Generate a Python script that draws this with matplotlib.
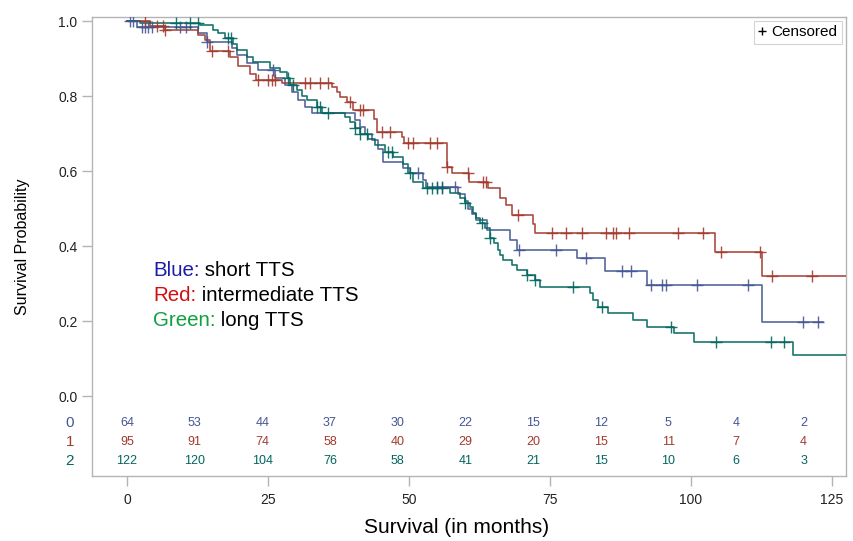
import numpy as np
import matplotlib.pyplot as plt
from matplotlib.lines import Line2D

# KM curves: step times (months) and survival after each step
blue_t = [0, 1.8, 12.6, 14.2, 18.6, 19.5, 21.3, 23.2, 26.2, 28.0, 29.3, 30.3, 31.6, 32.8, 40.4,
          41.3, 42.2, 43.4, 44.5, 45.4, 48.9, 50.2, 52.5, 53.0, 58.7, 59.9, 60.5, 61.2, 61.9, 63.8,
          67.9, 69.1, 79.8, 84.8, 92.2, 112.6]
blue_s = [1.0, 0.985, 0.968, 0.944, 0.928, 0.91, 0.888, 0.869, 0.848, 0.83, 0.81, 0.79, 0.772, 0.755, 0.737,
          0.718, 0.70, 0.683, 0.66, 0.624, 0.608, 0.595, 0.576, 0.557, 0.54, 0.52, 0.50, 0.485, 0.469, 0.443,
          0.416, 0.389, 0.368, 0.334, 0.296, 0.197]
blue_end = 123.4
blue_c = [0.5, 1.1, 2.7, 3.2, 3.7, 4.5, 9.4, 10.5, 14.2, 25.9, 51.6, 55.0, 55.9, 58.2, 69.5, 76.1,
          81.4, 87.8, 89.4, 92.9, 94.9, 95.6, 101.1, 110.1, 119.9, 122.5]

red_t = [0, 4.1, 6.7, 12.6, 13.8, 14.7, 18.3, 19.7, 21.8, 22.9, 27.5, 36.3, 37.2, 37.8, 39.0,
         40.1, 43.8, 44.3, 48.8, 49.1, 56.7, 57.6, 60.6, 64.0, 66.1, 67.2, 68.3, 72.0, 72.3, 104.3, 112.6]
red_s = [1.0, 0.987, 0.975, 0.963, 0.95, 0.92, 0.905, 0.88, 0.86, 0.843, 0.835, 0.824, 0.81, 0.797, 0.784,
         0.763, 0.74, 0.704, 0.69, 0.675, 0.61, 0.595, 0.57, 0.555, 0.528, 0.51, 0.483, 0.46, 0.435, 0.384, 0.32]
red_end = 128
red_c = [3.2, 5.3, 6.4, 6.7, 15.1, 17.9, 23.2, 25.0, 25.7, 26.2, 31.6, 32.4, 34.2, 35.6, 39.5, 41.3,
         41.8, 45.2, 46.6, 49.8, 50.7, 53.7, 55.0, 56.8, 60.5, 63.1, 63.7, 69.3, 75.4, 77.8, 80.7,
         84.9, 86.2, 86.7, 89.0, 97.7, 102.1, 105.3, 112.2, 114.4, 121.5]

green_t = [0, 2.3, 12.9, 15.2, 16.1, 17.4, 18.8, 19.5, 21.3, 22.3, 25.4, 27.1, 28.4, 28.9, 30.1,
           31.0, 31.9, 33.7, 34.6, 38.7, 39.5, 40.4, 41.3, 42.7, 44.0, 45.7, 47.2, 48.9, 49.8, 50.7,
           52.5, 57.3, 59.0, 59.9, 60.8, 61.3, 61.9, 62.6, 63.5, 64.4, 65.1, 65.8, 66.1, 66.7, 68.3,
           69.1, 70.9, 72.3, 73.2, 82.1, 82.6, 83.5, 85.3, 89.7, 92.2, 97.0, 100.5, 118.1]
green_s = [1.0, 0.995, 0.99, 0.977, 0.968, 0.955, 0.94, 0.923, 0.904, 0.891, 0.875, 0.864, 0.848, 0.83, 0.815,
           0.80, 0.789, 0.77, 0.755, 0.745, 0.73, 0.715, 0.70, 0.685, 0.669, 0.65, 0.637, 0.62, 0.595, 0.571,
           0.555, 0.541, 0.528, 0.515, 0.504, 0.488, 0.475, 0.461, 0.448, 0.421, 0.408, 0.389, 0.376, 0.363, 0.349,
           0.336, 0.323, 0.309, 0.291, 0.275, 0.256, 0.237, 0.221, 0.203, 0.184, 0.168, 0.144, 0.109]
green_end = 128
green_c = [8.7, 11.2, 12.6, 17.9, 18.4, 28.5, 29.4, 33.7, 34.2, 35.6, 40.4, 41.3, 42.6, 46.3, 47.0,
           50.2, 53.2, 54.1, 55.0, 55.9, 59.9, 62.9, 64.4, 70.9, 72.3, 79.1, 84.2, 96.5, 104.4, 114.2, 116.5]

# numbers at risk
risk_times = [0, 12, 24, 36, 48, 60, 72, 84, 96, 108, 120]
risk_blue = [64, 53, 44, 37, 30, 22, 15, 12, 5, 4, 2]
risk_red = [95, 91, 74, 58, 40, 29, 20, 15, 11, 7, 4]
risk_green = [122, 120, 104, 76, 58, 41, 21, 15, 10, 6, 3]

C_BLUE, C_RED, C_GREEN = '#445694', '#A23A2E', '#01665E'
GRID = '#b4b4b4'

plt.rcParams['font.family'] = ['Liberation Sans Narrow', 'Liberation Sans', 'DejaVu Sans']

fig = plt.figure(figsize=(8.54, 5.41), dpi=100)
ax = fig.add_axes([0.1077, 0.1201, 0.8829, 0.8485])


def surv_at(ts, ss, x):
    idx = np.searchsorted(ts, x, side='right') - 1
    return np.array(ss)[idx]


curves = [(blue_t, blue_s, blue_end, blue_c, C_BLUE),
          (red_t, red_s, red_end, red_c, C_RED),
          (green_t, green_s, green_end, green_c, C_GREEN)]
for ts, ss, end, cens, col in curves:
    xs = list(ts) + [end]
    ys = list(ss) + [ss[-1]]
    ax.step(xs, ys, where='post', color=col, lw=1.2, alpha=0.9, zorder=3)
    ax.plot(cens, surv_at(ts, ss, cens), linestyle='none', marker='+', ms=8, mew=1.0,
            color=col, alpha=0.9, zorder=4)

# at-risk table inside the axes
rows = [(risk_blue, C_BLUE, '0', -0.072), (risk_red, C_RED, '1', -0.1227),
        (risk_green, C_GREEN, '2', -0.173)]
for vals, col, lab, yy in rows:
    for t, v in zip(risk_times, vals):
        ax.text(t, yy, str(v), color=col, fontsize=9, ha='center', va='center')
    ax.text(-10.1, yy, lab, color=col, fontsize=11, ha='center', va='center', clip_on=False)

# colour key text
keys = [('Blue:', ' short TTS', '#1c1ca8', 0.336),
        ('Red:', ' intermediate TTS', '#d01010', 0.268),
        ('Green:', ' long TTS', '#10a040', 0.201)]
for head, tail, col, yy in keys:
    t1 = ax.text(4.6, yy, head, color=col, fontsize=14.8, family=['Liberation Sans'],
                 ha='left', va='center')
    ax.annotate(tail, xy=(1, 0), xycoords=t1, ha='left', va='bottom', fontsize=14.8,
                family=['Liberation Sans'], color='black')

handle = Line2D([], [], linestyle='none', marker='+', color='black', ms=5.5, mew=1.0)
leg = ax.legend([handle], ['Censored'], loc='upper right', frameon=True,
                fancybox=False, edgecolor='#c8c8c8', handlelength=0.5, handletextpad=0.35,
                borderpad=0.3, borderaxespad=0.25, prop={'family': 'Liberation Sans', 'size': 11})
leg.get_frame().set_linewidth(0.8)

ax.set_xlim(-6.2, 127.5)
ax.set_ylim(-0.2133, 1.0107)
ax.set_xticks([0, 25, 50, 75, 100, 125])
ax.set_yticks([0.0, 0.2, 0.4, 0.6, 0.8, 1.0])
ax.set_yticklabels(['0.0', '0.2', '0.4', '0.6', '0.8', '1.0'])
for sp in ax.spines.values():
    sp.set_color(GRID)
    sp.set_linewidth(1.0)
ax.tick_params(axis='both', colors=GRID, labelcolor='#222222', labelsize=10, length=7, width=1.0)
ax.tick_params(axis='x', pad=5)
ax.set_xlabel('Survival (in months)', fontsize=15, family=['Liberation Sans'])
ax.xaxis.set_label_coords(0.483, -0.091)
ax.set_ylabel('Survival Probability', fontsize=11.5, labelpad=20)

fig.savefig('out.png', dpi=100)
